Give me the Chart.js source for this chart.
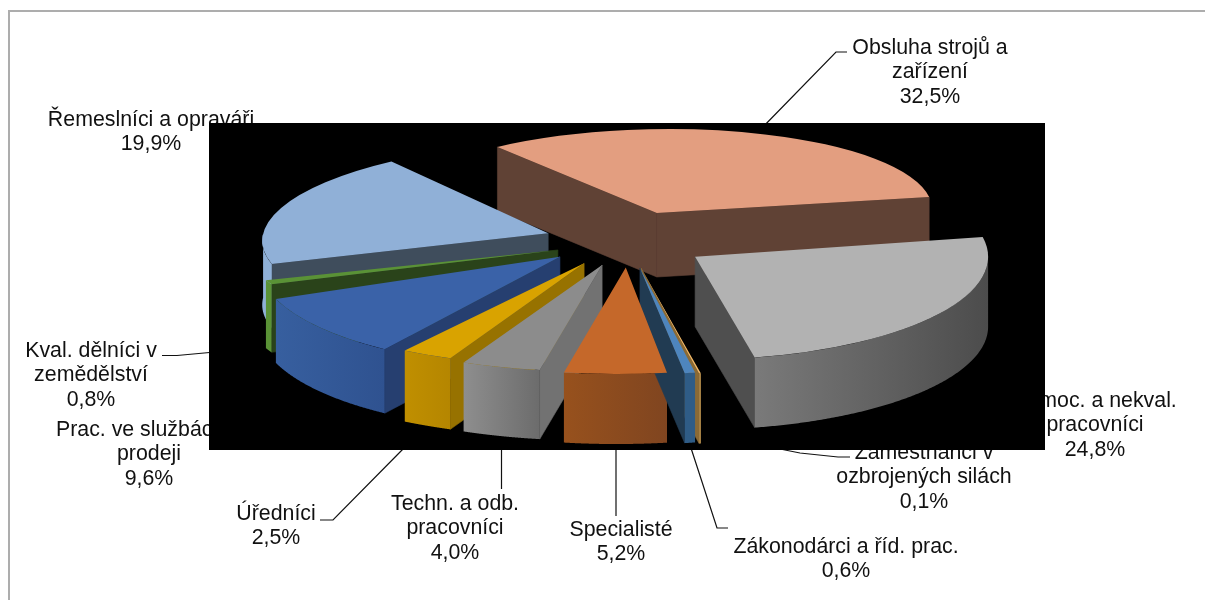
<!DOCTYPE html>
<html>
<head>
<meta charset="utf-8">
<style>
  html, body { margin: 0; padding: 0; background: #fff; }
  canvas { display: block; }
</style>
<script src="https://cdn.jsdelivr.net/npm/chart.js@4/dist/chart.umd.min.js"></script>
</head>
<body>
<canvas id="myChart" width="1205" height="600"></canvas>
<script>
// data
const categories = [
  "Obsluha strojů a\nzařízení",
  "Pomoc. a nekval.\npracovníci",
  "Zaměstnanci v\nozbrojených silách",
  "Zákonodárci a říd. prac.",
  "Specialisté",
  "Techn. a odb.\npracovníci",
  "Úředníci",
  "Prac. ve službách a\nprodeji",
  "Kval. dělníci v\nzemědělství",
  "Řemeslníci a opraváři"
];
const shares = [32.5, 24.8, 0.1, 0.6, 5.2, 4.0, 2.5, 9.6, 0.8, 19.9];

// slice styling, same order as categories
const topColors = ["#E39E80", "#B2B2B2", "#F2B866", "#4E85BD", "#C5682A", "#8C8C8C", "#D9A300", "#3A62A8", "#5A9236", "#90B0D7"];
const sideColors = ["#604235", "#4F4F4F", "#8A6A35", "#213B52", "#6E3C18", "#727272", "#977200", "#263F70", "#2A431A", "#3F4D5C"];
const rimLeft = ["#604235", "#7A7A7A", "#B08948", "#2F5C86", "#97511D", "#8E8E8E", "#C08F00", "#375F9F", "#5A9236", "#8FB0D7"];
const rimRight = ["#604235", "#4C4C4C", "#B08948", "#2F5C86", "#804520", "#6C6C6C", "#B58600", "#2F5290", "#5A9236", "#8FB0D7"];

// fake 3d: per slice pull-out, radius, squash, lean and height
const explode = [88, 83, 75, 78, 78, 83, 88, 86, 73, 81];
const lift = [0, 0, 2, 1, 0, -3, -4, -3, 0, 0];
const radii = [275, 293, 295, 280, 317, 320, 330, 302, 310, 285];
const tilts = [0.305, 0.352, 0.365, 0.38, 0.336, 0.333, 0.315, 0.365, 0.29, 0.32];
const leans = [-0.15, 0, 0, 0, -0.09, -0.09, 0, -0.12, 0, -0.26];
const depths = [64, 70, 70, 70, 70, 69, 71, 64, 68, 64];
const pieX = 626, pieY = 241, pullTilt = 0.34;

// label placement: centre x, y of first line, in category order
const labelAt = [
  [930, 48], [1095, 401], [924, 453], [846, 547], [621, 530],
  [455, 504], [276, 514], [149, 430], [91, 351], [151, 120]
];
const leaders = [
  [[847, 52], [836, 52], [760, 130]],
  [[760, 445], [800, 453], [838, 457], [850, 457]],
  [[690, 445], [717, 528], [728, 528]],
  [[616, 445], [616, 516]],
  [[501.5, 445], [501.5, 489]],
  [[320, 520], [333, 520], [405, 447]],
  [[162, 355.5], [177, 355.5], [215, 352]]
];
const plot = { x: 209, y: 123, w: 836, h: 327 };

function apexOf(el, i) {
  const mid = (el.startAngle + el.endAngle) / 2;
  return {
    x: pieX + Math.cos(mid) * explode[i],
    y: pieY + Math.sin(mid) * explode[i] * pullTilt + lift[i]
  };
}

const pie3d = {
  id: "pie3d",
  afterDatasetsUpdate(chart) {
    chart.getDatasetMeta(0).data.forEach(function (el, i) {
      el.outerRadius = radii[i];
      if (el.wrapped) return;
      el.wrapped = true;
      const drawArc = el.draw;
      el.draw = function (ctx, area) {
        const a = apexOf(el, i);
        ctx.save();
        ctx.translate(a.x, a.y);
        ctx.transform(1, 0, leans[i], 1, 0, 0);
        ctx.scale(1, tilts[i]);
        ctx.translate(-el.x, -el.y);
        drawArc.call(el, ctx, area);
        ctx.restore();
      };
    });
  },
  beforeDraw(chart) {
    const ctx = chart.ctx;
    // outer frame
    ctx.strokeStyle = "#ADADAD";
    ctx.lineWidth = 2;
    ctx.beginPath();
    ctx.moveTo(9, 600);
    ctx.lineTo(9, 11);
    ctx.lineTo(1205, 11);
    ctx.stroke();

    // leaders and labels go under the black plot, which cuts some of them
    ctx.strokeStyle = "#111";
    ctx.lineWidth = 1.2;
    leaders.forEach(function (line) {
      ctx.beginPath();
      line.forEach(function (p, j) {
        if (j === 0) ctx.moveTo(p[0], p[1]);
        else ctx.lineTo(p[0], p[1]);
      });
      ctx.stroke();
    });

    ctx.fillStyle = "#111";
    ctx.font = '21.33px "Liberation Sans", Arial, sans-serif';
    ctx.textAlign = "center";
    ctx.textBaseline = "middle";
    categories.forEach(function (name, i) {
      const lines = name.split("\n");
      lines.push(shares[i].toFixed(1).replace(".", ",") + "%");
      lines.forEach(function (line, j) {
        ctx.fillText(line, labelAt[i][0], labelAt[i][1] + j * 24.5);
      });
    });

    ctx.fillStyle = "#000";
    ctx.fillRect(plot.x, plot.y, plot.w, plot.h);
  },
  beforeDatasetsDraw(chart) {
    const ctx = chart.ctx;
    const arcs = chart.getDatasetMeta(0).data;
    const order = arcs.map(function (el, i) { return i; });
    order.sort(function (a, b) { return apexOf(arcs[a], a).y - apexOf(arcs[b], b).y; });

    order.forEach(function (i) {
      const el = arcs[i];
      const a = apexOf(el, i);
      const r = radii[i], k = tilts[i], d = depths[i], lean = leans[i];
      const rim = function (angle) {
        const dy = Math.sin(angle) * r * k;
        return { x: a.x + Math.cos(angle) * r + lean * dy, y: a.y + dy };
      };

      // flat side walls, only those facing the viewer
      ctx.fillStyle = sideColors[i];
      ctx.strokeStyle = sideColors[i];
      ctx.lineWidth = 0.6;
      [[el.startAngle, -Math.cos(el.startAngle)], [el.endAngle, Math.cos(el.endAngle)]].forEach(function (side) {
        if (side[1] <= 0) return;
        const p = rim(side[0]);
        ctx.beginPath();
        ctx.moveTo(a.x, a.y);
        ctx.lineTo(p.x, p.y);
        ctx.lineTo(p.x, p.y + d);
        ctx.lineTo(a.x, a.y + d);
        ctx.closePath();
        ctx.fill();
        ctx.stroke();
      });

      // curved wall, the part on the front half of the ellipse
      const pts = [];
      for (let t = 0; t <= 200; t++) {
        const angle = el.startAngle + (el.endAngle - el.startAngle) * t / 200;
        if (Math.sin(angle) >= 0) pts.push(rim(angle));
      }
      if (pts.length < 2) return;
      const xs = pts.map(function (p) { return p.x; });
      const gradient = ctx.createLinearGradient(Math.min.apply(null, xs), 0, Math.max.apply(null, xs), 0);
      gradient.addColorStop(0, rimLeft[i]);
      gradient.addColorStop(1, rimRight[i]);
      ctx.fillStyle = gradient;
      ctx.beginPath();
      pts.forEach(function (p, j) {
        if (j === 0) ctx.moveTo(p.x, p.y);
        else ctx.lineTo(p.x, p.y);
      });
      pts.slice().reverse().forEach(function (p) { ctx.lineTo(p.x, p.y + d); });
      ctx.closePath();
      ctx.fill();
    });
  }
};

new Chart(document.getElementById("myChart"), {
  type: "pie",
  data: {
    labels: categories,
    datasets: [{
      data: shares,
      backgroundColor: topColors,
      borderWidth: 0,
      clip: false
    }]
  },
  options: {
    responsive: false,
    animation: false,
    events: [],
    rotation: -38,
    plugins: {
      legend: { display: false },
      tooltip: { enabled: false }
    }
  },
  plugins: [pie3d]
});
</script>
</body>
</html>
